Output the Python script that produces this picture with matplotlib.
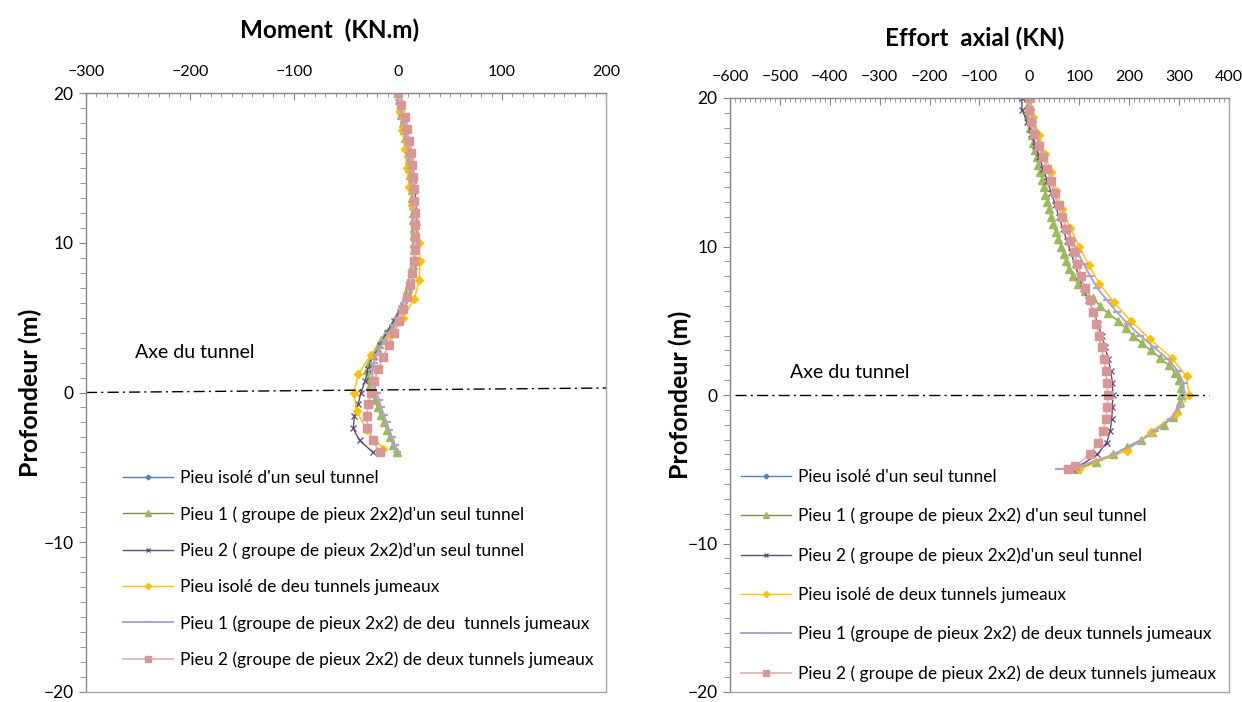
import matplotlib
matplotlib.use("Agg")
import matplotlib.pyplot as plt
from matplotlib.ticker import MultipleLocator

plt.rcParams['font.family'] = ['Lato', 'DejaVu Sans']

# ---- depth grids (m) ----
depth_08_mom = [20.0, 19.2, 18.4, 17.6, 16.8, 16.0, 15.2, 14.4, 13.6, 12.8, 12.0, 11.2, 10.4, 9.6,
                8.8, 8.0, 7.2, 6.4, 5.6, 4.8, 4.0, 3.2, 2.4, 1.6, 0.8, 0.0, -0.8, -1.6, -2.4, -3.2, -4.0]
depth_05_mom = [20.0, 19.5, 19.0, 18.5, 18.0, 17.5, 17.0, 16.5, 16.0, 15.5, 15.0, 14.5, 14.0, 13.5,
                13.0, 12.5, 12.0, 11.5, 11.0, 10.5, 10.0, 9.5, 9.0, 8.5, 8.0, 7.5, 7.0, 6.5, 6.0, 5.5,
                5.0, 4.5, 4.0, 3.5, 3.0, 2.5, 2.0, 1.5, 1.0, 0.5, 0.0, -0.5, -1.0, -1.5, -2.0, -2.5,
                -3.0, -3.5, -4.0]
depth_125_mom = [20.0, 18.75, 17.5, 16.25, 15.0, 13.75, 12.5, 11.25, 10.0, 8.75, 7.5, 6.25, 5.0,
                 3.75, 2.5, 1.25, 0.0, -1.25, -2.5, -3.75]

depth_08_ax = depth_08_mom + [-4.8, -5.0]
depth_05_ax = depth_05_mom + [-4.5, -5.0]
depth_125_ax = depth_125_mom + [-5.0]

# ---- moment (kN.m) ----
mom_pieu1_seul = [0, 0.5, 1.5, 3.0, 4.5, 6.0, 7.2, 8.3, 9.3, 10.2, 11.0, 11.8, 12.5, 13.1, 13.6, 14.1,
                  14.5, 14.9, 15.2, 15.4, 15.5, 15.4, 15.0, 14.2, 13.0, 11.4, 9.5, 7.3, 5.0, 2.2, -1.5,
                  -6.0, -11.5, -16.5, -20.5, -24.5, -28.0, -29.5, -29.0, -27.2, -25.2, -22.5, -19.5,
                  -16.7, -13.5, -10.5, -7.5, -4.5, -1.3]
mom_pieu2_seul = [0, 2.5, 5.5, 8.5, 11.0, 13.0, 14.5, 15.5, 16.2, 16.8, 17.2, 17.3, 17.3, 16.8, 15.8,
                  13.8, 11.0, 7.5, 3.0, -4.0, -11.0, -17.0, -24.5, -28.5, -31.5, -35.5, -38.5, -42.0,
                  -43.0, -37.0, -24.0]
mom_isole_deux = [0, 2.0, 4.2, 6.7, 8.7, 10.9, 13.8, 17.5, 20.2, 21.2, 20.5, 15.7, 5.1, -7.7, -26.3,
                  -38.1, -42.3, -39.7, -30.0, -14.0]
mom_pieu1_deux = [0, 1.0, 2.5, 4.0, 5.5, 7.0, 8.3, 9.5, 10.5, 11.5, 12.4, 13.2, 14.0, 14.6, 15.2, 15.7,
                  16.1, 16.5, 16.8, 17.0, 17.0, 16.8, 16.4, 15.6, 14.4, 12.8, 10.8, 8.5, 6.0, 3.0, -0.5,
                  -4.5, -9.0, -13.5, -17.5, -21.0, -23.5, -24.8, -24.5, -22.8, -20.5, -18.3, -16.0,
                  -13.5, -11.0, -8.5, -6.0, -3.2, -0.5]
mom_pieu2_deux = [0, 3.2, 6.5, 9.0, 10.9, 12.5, 13.8, 14.5, 15.1, 15.5, 16.0, 16.0, 16.3, 16.2, 15.5,
                  13.8, 11.2, 8.6, 4.8, 0.8, -3.8, -9.0, -14.3, -18.8, -22.8, -26.0, -28.6, -30.0,
                  -29.5, -24.5, -17.0]

# ---- effort axial (kN) ----
ax_pieu1_seul = [0, -3, -3, -1, 1.5, 4.5, 7.5, 11, 14.5, 18, 21.5, 25, 28.7, 32, 36, 40, 44, 48, 52.5,
                 58, 63.5, 69, 74, 79, 87, 98, 112, 127, 142, 157, 178, 193, 208, 225, 243, 262, 279,
                 292, 300, 303, 303, 301, 295, 287, 270, 245, 224, 196, 168, 133, 95]
ax_pieu2_seul = [-15, -15, -4, 4, 12, 20, 28, 36, 44, 52, 59, 67, 75, 83, 91, 99, 108, 118, 129, 137,
                 145, 152, 158, 163, 166.5, 167, 166.5, 165, 162, 155, 136, 100, 86]
ax_isole_deux = [2, 8, 19, 31, 43, 54, 66, 82, 100, 119, 140, 169, 203, 242, 285, 315, 320, 294, 243,
                 195, 100]
ax_pieu1_deux = [0, 3, 8, 14, 22, 29, 36, 43, 50, 58, 66, 75, 86, 97, 109, 122, 136, 155, 175, 197,
                 222, 250, 278, 298, 309, 310, 301, 283, 252, 218, 170, 100, 60]
ax_pieu2_deux = [2, -1, 3, 10, 18.7, 27, 36, 43, 51, 59, 66, 74, 82, 89, 96, 104, 111, 121, 128, 134,
                 139, 144.5, 149, 153.5, 156, 157, 156.5, 153, 147.5, 138, 121, 92, 78]

labels_moment = ["Pieu isolé d'un seul tunnel",
                 "Pieu 1 ( groupe de pieux 2x2)d'un seul tunnel",
                 "Pieu 2 ( groupe de pieux 2x2)d'un seul tunnel",
                 "Pieu isolé de deu tunnels jumeaux",
                 "Pieu 1 (groupe de pieux 2x2) de deu  tunnels jumeaux",
                 "Pieu 2 (groupe de pieux 2x2) de deux tunnels jumeaux"]
labels_axial = ["Pieu isolé d'un seul tunnel",
                "Pieu 1 ( groupe de pieux 2x2) d'un seul tunnel",
                "Pieu 2 ( groupe de pieux 2x2)d'un seul tunnel",
                "Pieu isolé de deux tunnels jumeaux",
                "Pieu 1 (groupe de pieux 2x2) de deux tunnels jumeaux",
                "Pieu 2 ( groupe de pieux 2x2) de deux tunnels jumeaux"]

# colours / marker styles per series
styles = [
    dict(color='#4F81BD', marker='D', ms=3.5, lw=1.0),
    dict(color='#77933C', marker='^', ms=5.5, lw=1.0, mfc='#9BBB59', mec='#9BBB59'),
    dict(color='#604A7B', marker='x', ms=4.0, lw=1.0, mew=0.9),
    dict(color='#FFC000', marker='D', ms=4.5, lw=1.0),
    dict(color='#B3A2C7', marker='_', ms=6.0, lw=1.4, mew=1.6),
    dict(color='#E6B9B8', marker='s', ms=6.0, lw=1.4, mfc='#D99694', mec='#D99694'),
]

fig = plt.figure(figsize=(12.42, 7.02), dpi=100)
ax1 = fig.add_axes([86 / 1242, 10 / 702, 520 / 1242, 599 / 702])
ax2 = fig.add_axes([730 / 1242, 10 / 702, 499 / 1242, 594 / 702])

series_m = [([], []),
            (mom_pieu1_seul, depth_05_mom),
            (mom_pieu2_seul, depth_08_mom),
            (mom_isole_deux, depth_125_mom),
            (mom_pieu1_deux, depth_05_mom),
            (mom_pieu2_deux, depth_08_mom)]
series_a = [([], []),
            (ax_pieu1_seul, depth_05_ax),
            (ax_pieu2_seul, depth_08_ax),
            (ax_isole_deux, depth_125_ax),
            (ax_pieu1_deux, depth_08_ax),
            (ax_pieu2_deux, depth_08_ax)]

for (x, y), st, lab in zip(series_m, styles, labels_moment):
    ax1.plot(x, y, label=lab, **st)
for (x, y), st, lab in zip(series_a, styles, labels_axial):
    ax2.plot(x, y, label=lab, **st)

# tunnel axis
ax1.plot([-300, 200], [0, 0.3], color='black', lw=1.0, ls='-.', dashes=(8, 3, 1.5, 3))
ax2.plot([-590, 360], [0, 0], color='black', lw=1.0, ls='-.', dashes=(8, 3, 1.5, 3))
ax1.text(-253, 2.65, 'Axe du tunnel', fontsize=14, va='center', ha='left')
ax2.text(-479, 1.5, 'Axe du tunnel', fontsize=14, va='center', ha='left')

for ax, xmin, xmax in [(ax1, -300, 200), (ax2, -600, 400)]:
    ax.set_xlim(xmin, xmax)
    ax.set_ylim(-20, 20)
    ax.xaxis.tick_top()
    ax.xaxis.set_major_locator(MultipleLocator(100))
    ax.xaxis.set_minor_locator(MultipleLocator(10))
    ax.yaxis.set_major_locator(MultipleLocator(10))
    ax.yaxis.set_minor_locator(MultipleLocator(1))
    ax.tick_params(axis='x', which='major', direction='in', length=5, color='#868686',
                   labelsize=11.5, pad=10)
    ax.tick_params(axis='x', which='minor', direction='in', length=3, color='#868686')
    ax.tick_params(axis='y', which='major', direction='out', length=5, color='#868686',
                   labelsize=12.5, pad=4)
    ax.tick_params(axis='y', which='minor', direction='out', length=4, color='#868686')
    for s in ax.spines.values():
        s.set_color('#868686')
        s.set_linewidth(1.0)
    ax.spines['right'].set_color('#A6A6A6')
    ax.spines['bottom'].set_color('#A6A6A6')

fig.text(330 / 1242, 1 - 30 / 702, 'Moment  (KN.m)', fontsize=17.5, fontweight='bold',
         ha='center', va='center')
fig.text(975 / 1242, 1 - 38 / 702, 'Effort  axial (KN)', fontsize=17.5, fontweight='bold',
         ha='center', va='center')
fig.text(30 / 1242, 1 - 393 / 702, 'Profondeur (m)', fontsize=18, fontweight='bold',
         rotation=90, ha='center', va='center')
fig.text(680 / 1242, 1 - 395 / 702, 'Profondeur (m)', fontsize=18, fontweight='bold',
         rotation=90, ha='center', va='center')

ax1.legend(loc='upper left', bbox_to_anchor=(123 / 1242, 1 - 470 / 702),
           bbox_transform=fig.transFigure, frameon=False, fontsize=12.5,
           handlelength=2.9, handletextpad=0.4, labelspacing=1.15, borderpad=0,
           borderaxespad=0, markerscale=0.7)
ax2.legend(loc='upper left', bbox_to_anchor=(741 / 1242, 1 - 469 / 702),
           bbox_transform=fig.transFigure, frameon=False, fontsize=12.5,
           handlelength=2.9, handletextpad=0.4, labelspacing=1.32, borderpad=0,
           borderaxespad=0, markerscale=0.7)

fig.savefig('out.png', dpi=100)
